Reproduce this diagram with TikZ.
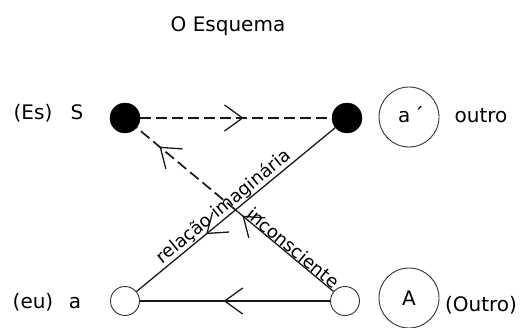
\documentclass[tikz,border=0pt]{standalone}
\usepackage{fontspec}
\setmainfont{DejaVu Sans}
\usetikzlibrary{arrows.meta}
\usetikzlibrary{decorations.markings}
\usetikzlibrary{positioning}

\tikzset{
  dot/.style={circle, fill=black, draw=black, minimum size=30pt, inner sep=0pt},
  hollow/.style={circle, draw=black!80, line width=0.9pt, minimum size=29pt, inner sep=0pt},
  ring/.style={circle, draw=black!80, line width=0.9pt, minimum size=60pt, inner sep=0pt},
  lbl/.style={font=\fontsize{20}{24}\selectfont, anchor=base, text=black},
  slbl/.style={font=\fontsize{18}{21}\selectfont, sloped, above, inner sep=0.5pt, text=black},
  link/.style={line width=1.3pt, draw=black!90},
  dlink/.style={link, line width=1.7pt, dash pattern=on 11pt off 5pt},
  barb/.style={postaction={decorate}, decoration={markings,
      mark=at position #1 with {\arrow{Straight Barb[length=18pt,width=26pt,line width=1.3pt]}}}}
}

\begin{document}
\begin{tikzpicture}[x=1pt, y=1pt]

\useasboundingbox (0,0) rectangle (525,327);

%---------------------------------------
% Title
%---------------------------------------
\node[lbl] (title) at (228,295) {O Esquema};

%---------------------------------------
% The four places
%---------------------------------------
\node[dot]    (Sdot)  at (125,209) {};
\node[dot]    (apdot) at (347,209) {};
\node[hollow] (adot)  at (125,26) {};
\node[hollow] (Adot)  at (345,26) {};

% crossing of the two diagonals
\coordinate (X) at (intersection of Sdot.center--Adot.center and apdot.center--adot.center);

%---------------------------------------
% Labels on the left
%---------------------------------------
\node[lbl] (es)   at (33,207) {(Es)};
\node[lbl] (Slbl) at (77,207) {S};
\node[lbl] (eu)   at (33,19) {(eu)};
\node[lbl] (albl) at (75,19) {a};

%---------------------------------------
% Labels on the right
%---------------------------------------
\node[ring] (apring) at (409,210) {};
\node[lbl]  (aplbl)  at (411,204) {a\,´};
\node[lbl]  (outro)  at (481,204) {outro};

\node[ring] (Aring) at (409,29) {};
\node[lbl]  (Albl)  at (409,22) {A};
\node[lbl]  (Outro) at (481,16) {(Outro)};

%---------------------------------------
% Connectors
%---------------------------------------
\draw[dlink, barb=0.54] (Sdot) -- (apdot);
\draw[link, barb=0.65]  (apdot) -- (adot);
\draw[link, barb=0.56]  (Adot) -- (adot);
\draw[link, barb=0.93]  (Adot) -- (X);
\draw[dlink, barb=0.77] (X) -- (Sdot);

\path (adot) -- (apdot) node[slbl, pos=0.47] {relação imaginária};
\path (Sdot) -- (Adot) node[slbl, pos=0.77] {inconsciente};

\end{tikzpicture}
\end{document}
